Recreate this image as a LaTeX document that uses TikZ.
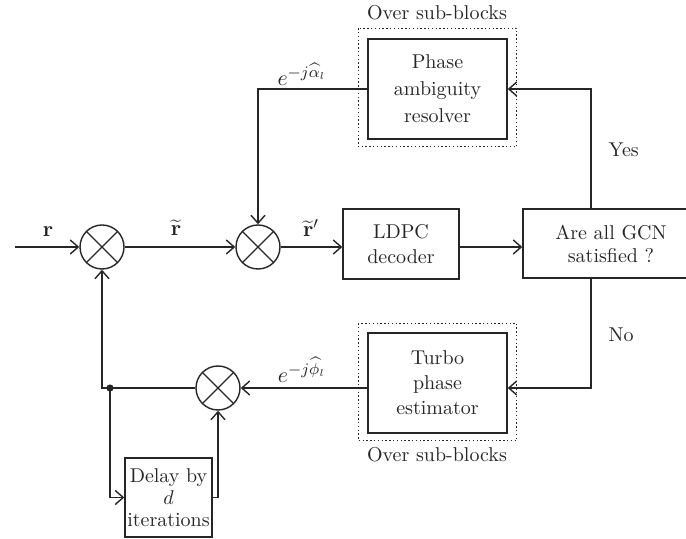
\documentclass[tikz,border=0pt]{standalone}
\usetikzlibrary{arrows.meta}

\tikzset{
  mixer/.style={circle,draw,minimum size=22pt,inner sep=0pt,
    path picture={\draw (path picture bounding box.north west) -- (path picture bounding box.south east)
                        (path picture bounding box.north east) -- (path picture bounding box.south west);}},
  block/.style={draw,align=center,inner sep=1pt},
  subblocks/.style={draw,dash pattern=on 0.7pt off 1.2pt},
  lbl/.style={inner sep=1pt},
  sig/.style={inner sep=0.5pt,font=\fontsize{11}{13}\selectfont}
}

\begin{document}
\begin{tikzpicture}[x=0.5pt,y=-0.5pt,font=\fontsize{10}{12.5}\selectfont,
  line width=0.7pt,color=black!85,>={Straight Barb[length=4pt,width=7pt]}]
\useasboundingbox (0,0) rectangle (686,539);
%
% mixers
\node[mixer] (mix1) at (102,247) {};
\node[mixer] (mix2) at (258,247) {};
\node[mixer] (mix3) at (218,388) {};
% blocks
\node[block,minimum width=58pt,minimum height=35pt] (ldpc) at (401,244) {LDPC\\decoder};
\node[block,minimum width=88pt,minimum height=34.5pt,font=\fontsize{10}{11.5}\selectfont] (gcn) at (611,243.5) {Are all GCN\\satisfied ?};
\node[block,minimum width=69.5pt,minimum height=50pt,font=\fontsize{10}{13.5}\selectfont] (phase) at (437.5,89) {Phase\\ambiguity\\resolver};
\node[block,minimum width=69.5pt,minimum height=50pt] (turbo) at (437.5,383) {Turbo\\phase\\estimator};
\node[block,minimum width=43.5pt,minimum height=39.5pt,font=\fontsize{10}{11}\selectfont] (delay) at (168.5,497.5) {Delay by\\$d$\\iterations};
%
% Over sub-blocks
\draw[subblocks] ([shift={(-9,-10)}]phase.north west) rectangle ([shift={(9,7)}]phase.south east);
\node[lbl] (over1) at (437,13) {Over sub-blocks};
\draw[subblocks] ([shift={(-9,-9)}]turbo.north west) rectangle ([shift={(9,7)}]turbo.south east);
\node[lbl] (over2) at (437,455) {Over sub-blocks};
%
% forward path
\coordinate (in) at (15,247);
\draw[->] (in) -- (mix1.west);
\node[sig] (rlbl) at (48,232) {$\mathbf{r}$};
\draw[->] (mix1) -- (mix2);
\node[sig] (rtlbl) at (176,228) {$\widetilde{\mathbf{r}}$};
\draw[->] (mix2.east) -- (mix2.east -| ldpc.west);
\node[sig] (rtplbl) at (311,228) {$\widetilde{\mathbf{r}}'$};
\draw[->] (ldpc.east |- mix2.east) -- (gcn.west |- mix2.east);
%
% Yes branch
\coordinate (yes) at ([xshift=-10]gcn.north);
\draw[->] (yes) |- (phase.east);
\node[lbl,anchor=west] (yeslbl) at (606,150) {Yes};
\draw[->] (phase.west) -| (mix2.north);
\node[sig] (alphalbl) at (302,74) {$e^{-j\widehat{\alpha}_l}$};
%
% No branch
\coordinate (no) at ([xshift=-10]gcn.south);
\draw[->] (no) |- (turbo.east |- mix3.east);
\node[lbl,anchor=west] (nolbl) at (606,335) {No};
\draw[->] (turbo.west |- mix3.east) -- (mix3.east);
\node[sig] (philbl) at (302,370) {$e^{-j\widehat{\phi}_l}$};
%
% feedback and delay
\coordinate (corner) at (102,388);
\fill (110,388) circle (1.8pt) coordinate (tap);
\draw[->] (mix3.west) -- (corner) -- (mix1.south);
\draw[->] (tap) |- (delay.west);
\draw[->] (delay.east) -| (mix3.south);
\end{tikzpicture}
\end{document}
